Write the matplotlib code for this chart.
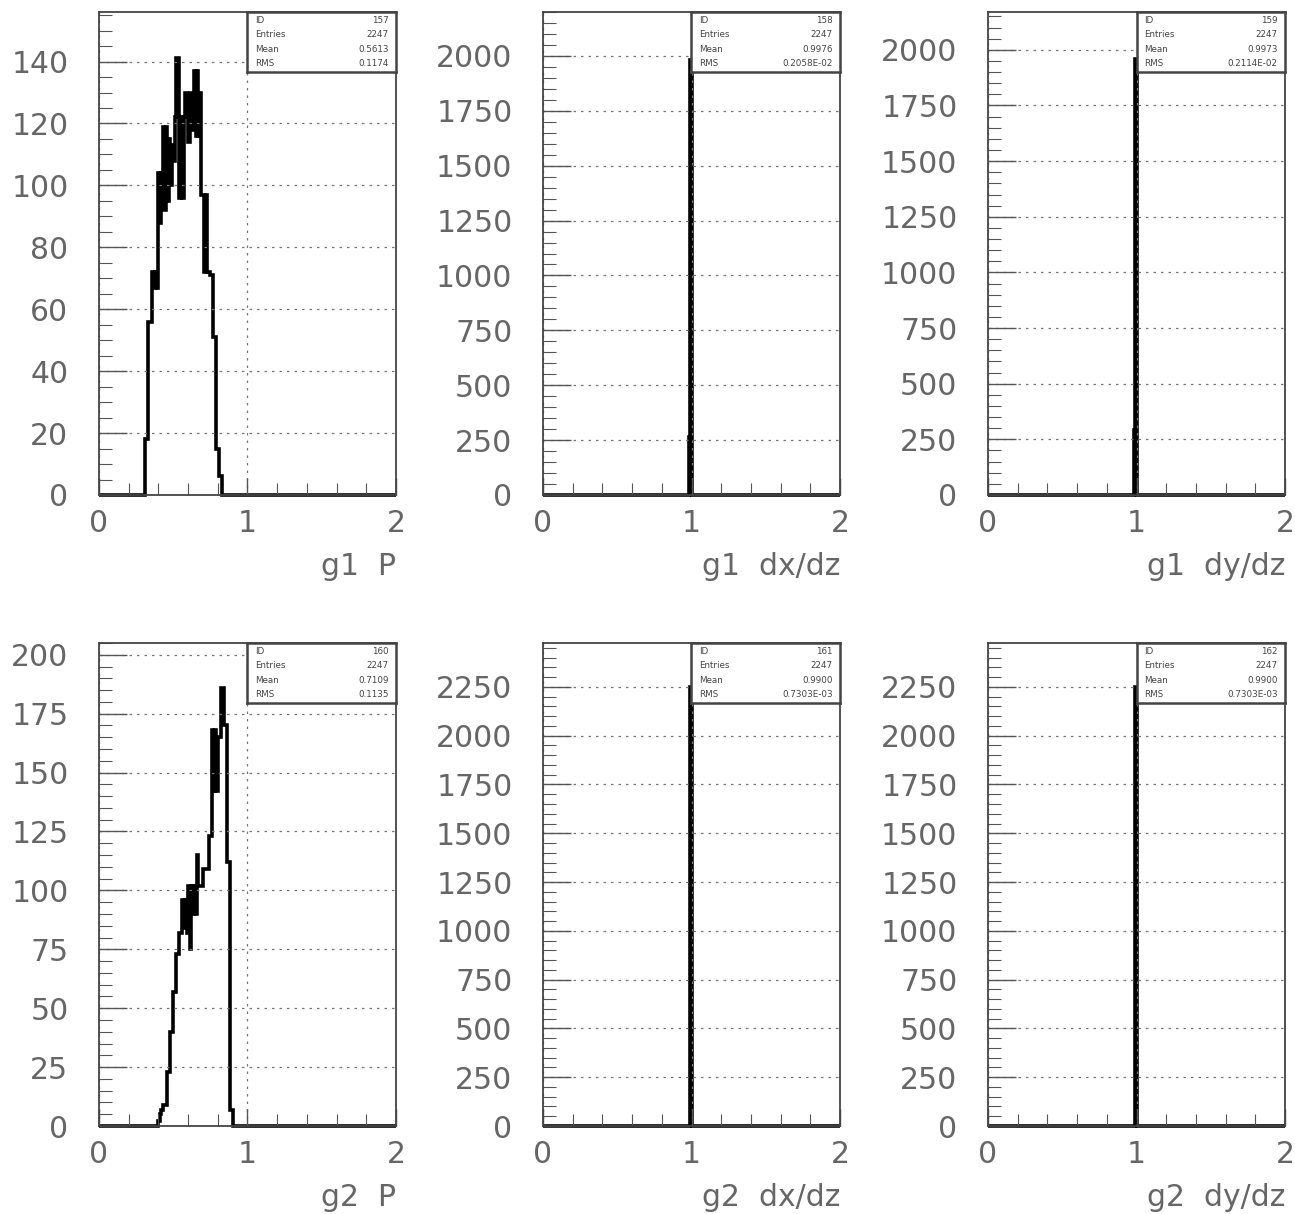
import numpy as np
import matplotlib
matplotlib.use("Agg")
import matplotlib.pyplot as plt
from matplotlib.ticker import MultipleLocator

# 200 bins of 0.01 between 0 and 2
edges = np.linspace(0, 2, 201)

# g1 P, counts per bin starting at 0.31
g1_p_start = 0.31
g1_p_counts = [18, 18, 56, 56, 56, 72, 67, 72, 67, 104, 88, 104, 119, 92, 119, 95,
               115, 100, 113, 108, 122, 141, 141, 96, 122, 96, 122, 130, 126, 114,
               130, 118, 126, 137, 116, 137, 116, 130, 97, 97, 72, 97, 72, 72, 71,
               71, 51, 51, 15, 15, 6, 6]

# g2 P, counts per bin starting at 0.40
g2_p_start = 0.40
g2_p_counts = [2, 5, 7, 9, 9, 9, 23, 23, 40, 40, 57, 57, 73, 73, 82, 82, 96, 84, 96,
               82, 102, 75, 102, 90, 102, 90, 115, 102, 102, 102, 109, 109, 109, 109,
               123, 123, 168, 142, 168, 142, 165, 165, 186, 186, 170, 170, 112, 112,
               7, 7]

# slope histograms: bins 0.98-0.99 and 0.99-1.00
g1_dxdz = [265, 1982]
g1_dydz = [290, 1957]
g2_dxdz = [0, 2247]
g2_dydz = [0, 2247]
slope_start = 0.98

titles = ["g1  P", "g1  dx/dz", "g1  dy/dz", "g2  P", "g2  dx/dz", "g2  dy/dz"]
ids = ["157", "158", "159", "160", "161", "162"]
entries = ["2247"] * 6
means = ["0.5613", "0.9976", "0.9973", "0.7109", "0.9900", "0.9900"]
rmss = ["0.1174", "0.2058E-02", "0.2114E-02", "0.1135", "0.7303E-03", "0.7303E-03"]


def fill(start, counts):
    h = np.zeros(200)
    i0 = int(round(start * 100))
    h[i0:i0 + len(counts)] = counts
    return h


hists = [fill(g1_p_start, g1_p_counts), fill(slope_start, g1_dxdz),
         fill(slope_start, g1_dydz), fill(g2_p_start, g2_p_counts),
         fill(slope_start, g2_dxdz), fill(slope_start, g2_dydz)]
ymax = [156, 2200, 2170, 205, 2475, 2475]
ymajor = [20, 250, 250, 25, 250, 250]
yminor = [5, 50, 50, 5, 50, 50]

W, H = 1295, 1214
fig = plt.figure(figsize=(W / 100, H / 100), dpi=100)
lefts = [99, 543, 988]
tops = [12, 643]
aw, ah = 297, 483

grey = "#666666"
for k in range(6):
    r, c = divmod(k, 3)
    x0 = lefts[c] / W
    y0 = 1 - (tops[r] + ah) / H
    ax = fig.add_axes([x0, y0, aw / W, ah / H])
    ax.stairs(hists[k], edges, color="black", lw=2.6, clip_on=False)
    ax.set_xlim(0, 2)
    ax.set_ylim(0, ymax[k])
    ax.xaxis.set_major_locator(MultipleLocator(1))
    ax.xaxis.set_minor_locator(MultipleLocator(0.2))
    ax.yaxis.set_major_locator(MultipleLocator(ymajor[k]))
    ax.yaxis.set_minor_locator(MultipleLocator(yminor[k]))
    ax.tick_params(which="both", direction="in", top=False, right=False,
                   colors="#555555", labelcolor=grey, labelsize=21.5)
    ax.tick_params(which="major", length=20, width=1)
    ax.tick_params(which="minor", length=9, width=0.8)
    ax.tick_params(axis="y", pad=22)
    ax.tick_params(axis="x", which="major", length=12)
    ax.tick_params(axis="x", pad=10)
    ax.grid(True, which="major", linestyle=(0, (2, 4)), color="#777777", lw=0.9)
    for s in ax.spines.values():
        s.set_color("#444444")
        s.set_linewidth(1.3)
    ax.set_xlabel(titles[k], loc="right", fontsize=21.5, color=grey, labelpad=10)

    # stats box
    bx = ax.inset_axes([0.5, 1 - 60 / ah, 0.5, 60 / ah])
    bx.set_xticks([])
    bx.set_yticks([])
    for s in bx.spines.values():
        s.set_color("#444444")
        s.set_linewidth(1.8)
    rows = [("ID", ids[k]), ("Entries", entries[k]), ("Mean", means[k]), ("RMS", rmss[k])]
    for j, (a, b) in enumerate(rows):
        yy = 0.86 - j * 0.24
        bx.text(0.05, yy, a, fontsize=6.3, va="center", ha="left", color="#444444")
        bx.text(0.95, yy, b, fontsize=6.3, va="center", ha="right", color="#444444")

fig.savefig("out.png", dpi=100)
